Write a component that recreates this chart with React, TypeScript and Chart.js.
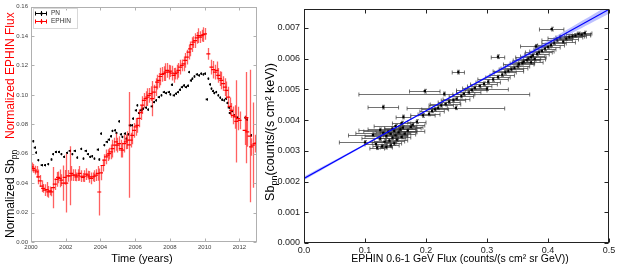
import React, { useEffect, useRef } from "react";
import { Chart, registerables } from "chart.js";
Chart.register(...registerables);

// ---------------- Left panel data ----------------
const LEFT_X_TITLE = "Time (years)";
const LEFT_Y_TITLE_BLACK = "Normalized Sb";
const LEFT_Y_TITLE_SUB = "pn";
const LEFT_Y_TITLE_RED = "Normalized EPHIN Flux";
const LEGEND_LABELS = ["PN", "EPHIN"];

const pnYears = [
  2000.13, 2000.21, 2000.29, 2000.42, 2000.61, 2000.8, 2000.99, 2001.18, 2001.27, 2001.43,
  2001.61, 2001.75, 2001.9, 2002.07, 2002.22, 2002.38, 2002.51, 2002.66, 2002.89, 2003.02,
  2003.14, 2003.27, 2003.4, 2003.52, 2003.65, 2003.84, 2003.93, 2004.03, 2004.22, 2004.35,
  2004.47, 2004.6, 2004.69, 2004.83, 2004.92, 2005.07, 2005.17, 2005.26, 2005.4, 2005.49,
  2005.6, 2005.68, 2005.8, 2005.87, 2006.03, 2006.12, 2006.21, 2006.31, 2006.37, 2006.44,
  2006.6, 2006.74, 2006.94, 2007.07, 2007.2, 2007.35, 2007.51, 2007.64, 2007.77, 2007.92,
  2008.02, 2008.11, 2008.21, 2008.34, 2008.46, 2008.57, 2008.68, 2008.8, 2008.91, 2009.03,
  2009.1, 2009.2, 2009.29, 2009.41, 2009.54, 2009.67, 2009.79, 2009.92, 2010.02, 2010.11,
  2010.21, 2010.3, 2010.39, 2010.47, 2010.55, 2010.66, 2010.78, 2010.89, 2011.0, 2011.12,
  2011.21, 2011.31, 2011.38, 2011.44, 2011.57, 2011.69, 2011.88, 2012.33, 2012.41, 2012.67,
];
const pnValues = [
  0.0685, 0.0642, 0.0608, 0.0556, 0.0522, 0.0522, 0.0529, 0.0561, 0.0597, 0.0612,
  0.0612, 0.0597, 0.0579, 0.0606, 0.0619, 0.0597, 0.0619, 0.0574, 0.0633, 0.0567,
  0.0619, 0.0597, 0.0579, 0.0583, 0.0567, 0.0628, 0.0561, 0.0737, 0.0658, 0.068,
  0.0696, 0.0719, 0.0755, 0.0759, 0.0741, 0.082, 0.0732, 0.0714, 0.0737, 0.0703,
  0.0732, 0.0793, 0.0793, 0.0839, 0.0895, 0.0929, 0.0877, 0.0895, 0.09, 0.0906,
  0.0913, 0.09, 0.0922, 0.0951, 0.0963, 0.0985, 0.0997, 0.1019, 0.1012, 0.1019,
  0.1003, 0.1069, 0.0997, 0.1008, 0.1019, 0.1035, 0.1053, 0.1064, 0.1053, 0.1062,
  0.1155, 0.1098, 0.111, 0.1125, 0.1139, 0.1132, 0.1144, 0.1139, 0.1144, 0.0969,
  0.111, 0.1071, 0.1042, 0.1026, 0.1012, 0.1019, 0.0997, 0.0981, 0.0967, 0.0963,
  0.0974, 0.0945, 0.0913, 0.0877, 0.089, 0.0861, 0.0845, 0.0845, 0.0832, 0.0725,
];
const PN_ERR = 0.0008;

const ephYears = [
  2000.04, 2000.13, 2000.23, 2000.32, 2000.42, 2000.51, 2000.61, 2000.7, 2000.8, 2000.9,
  2000.99, 2001.08, 2001.18, 2001.27, 2001.37, 2001.47, 2001.56, 2001.65, 2001.75, 2001.84,
  2001.94, 2002.03, 2002.13, 2002.22, 2002.32, 2002.41, 2002.51, 2002.61, 2002.7, 2002.79,
  2002.89, 2002.98, 2003.08, 2003.18, 2003.27, 2003.36, 2003.46, 2003.55, 2003.65, 2003.74,
  2003.84, 2003.93, 2004.03, 2004.12, 2004.22, 2004.32, 2004.41, 2004.5, 2004.6, 2004.69,
  2004.79, 2004.89, 2004.98, 2005.07, 2005.17, 2005.26, 2005.36, 2005.46, 2005.55, 2005.64,
  2005.74, 2005.83, 2005.93, 2006.03, 2006.12, 2006.21, 2006.31, 2006.4, 2006.5, 2006.6,
  2006.69, 2006.78, 2006.88, 2006.97, 2007.07, 2007.17, 2007.26, 2007.35, 2007.45, 2007.54,
  2007.64, 2007.74, 2007.83, 2007.92, 2008.02, 2008.11, 2008.21, 2008.31, 2008.4, 2008.49,
  2008.59, 2008.68, 2008.78, 2008.88, 2008.97, 2009.07, 2009.16, 2009.25, 2009.35, 2009.45,
  2009.54, 2009.64, 2009.73, 2009.82, 2009.92, 2010.02, 2010.21, 2010.39, 2010.49, 2010.59,
  2010.68, 2010.78, 2010.87, 2010.96, 2011.06, 2011.16, 2011.25, 2011.35, 2011.44, 2011.53,
  2011.63, 2011.73, 2011.82, 2011.92, 2012.01, 2012.3, 2012.4, 2012.45, 2012.58, 2012.67,
  2012.77, 2012.87, 2012.96,
];
const ephValues = [
  0.0511, 0.05, 0.0488, 0.0477, 0.0443, 0.0416, 0.038, 0.0364, 0.0353, 0.0357,
  0.0341, 0.0348, 0.0341, 0.037, 0.0393, 0.0425, 0.0439, 0.0432, 0.042, 0.04,
  0.0439, 0.04, 0.045, 0.045, 0.0466, 0.0454, 0.0454, 0.0443, 0.0454, 0.0466,
  0.0447, 0.0439, 0.0447, 0.0461, 0.0454, 0.0443, 0.0432, 0.0443, 0.0447, 0.0454,
  0.0466, 0.034, 0.047, 0.052, 0.0556, 0.0579, 0.059, 0.0601, 0.0612, 0.0635,
  0.0658, 0.068, 0.0658, 0.0669, 0.0635, 0.0624, 0.0669, 0.068, 0.0692, 0.066,
  0.0692, 0.0725, 0.0759, 0.0782, 0.0793, 0.084, 0.088, 0.093, 0.0963, 0.0974,
  0.0985, 0.0997, 0.1008, 0.0974, 0.1019, 0.1053, 0.1087, 0.1098, 0.1125, 0.1139,
  0.1144, 0.1155, 0.1166, 0.1155, 0.1162, 0.1148, 0.1132, 0.1144, 0.1155, 0.1166,
  0.1189, 0.12, 0.1211, 0.1234, 0.1256, 0.129, 0.1313, 0.1342, 0.1358, 0.1369,
  0.1388, 0.1403, 0.1392, 0.1403, 0.141, 0.1415, 0.1279, 0.1189, 0.1171, 0.1155,
  0.1166, 0.1132, 0.111, 0.1098, 0.1076, 0.1053, 0.1031, 0.0985, 0.0922, 0.0895,
  0.0861, 0.085, 0.082, 0.0839, 0.0827, 0.0759, 0.0845, 0.0748, 0.072, 0.0646,
  0.0658, 0.0669, 0.0673,
];
const ephErrors = [
  0.003, 0.003, 0.003, 0.004, 0.005, 0.004, 0.004, 0.003, 0.004, 0.005,
  0.004, 0.003, 0.003, 0.014, 0.004, 0.005, 0.004, 0.006, 0.004, 0.012,
  0.005, 0.02, 0.004, 0.02, 0.005, 0.004, 0.004, 0.003, 0.004, 0.005,
  0.004, 0.003, 0.004, 0.004, 0.003, 0.004, 0.004, 0.003, 0.004, 0.004,
  0.005, 0.016, 0.005, 0.004, 0.004, 0.005, 0.004, 0.004, 0.005, 0.006,
  0.005, 0.006, 0.005, 0.005, 0.006, 0.005, 0.006, 0.005, 0.006, 0.036,
  0.005, 0.006, 0.005, 0.006, 0.005, 0.006, 0.005, 0.006, 0.005, 0.005,
  0.006, 0.005, 0.005, 0.012, 0.005, 0.006, 0.005, 0.005, 0.006, 0.005,
  0.005, 0.006, 0.005, 0.005, 0.004, 0.005, 0.005, 0.004, 0.005, 0.005,
  0.005, 0.004, 0.005, 0.005, 0.005, 0.005, 0.005, 0.005, 0.004, 0.005,
  0.004, 0.005, 0.004, 0.004, 0.005, 0.004, 0.004, 0.005, 0.006, 0.005,
  0.006, 0.005, 0.005, 0.006, 0.005, 0.006, 0.006, 0.007, 0.006, 0.005,
  0.006, 0.008, 0.028, 0.008, 0.006, 0.01, 0.031, 0.01, 0.045, 0.006,
  0.029, 0.006, 0.005,
];

// ---------------- Right panel data ----------------
const RIGHT_X_TITLE = "EPHIN 0.6-1 GeV Flux (counts/(s cm\u00B2 sr GeV))";
const RIGHT_Y_TITLE_MAIN = "Sb";
const RIGHT_Y_TITLE_SUB = "pn";
const RIGHT_Y_TITLE_REST = "(counts/(s cm\u00B2 keV))";

const corrX = [
  0.12, 0.128, 0.135, 0.142, 0.118, 0.148, 0.1, 0.132, 0.14, 0.152,
  0.125, 0.145, 0.16, 0.135, 0.15, 0.113, 0.142, 0.165, 0.13, 0.155,
  0.138, 0.148, 0.17, 0.125, 0.158, 0.145, 0.162, 0.175, 0.15, 0.178,
  0.185, 0.163, 0.16, 0.13, 0.198, 0.23, 0.249, 0.195, 0.205, 0.21,
  0.215, 0.22, 0.225, 0.232, 0.238, 0.245, 0.25, 0.258, 0.262, 0.27,
  0.275, 0.28, 0.288, 0.295, 0.3, 0.302, 0.31, 0.318, 0.253, 0.318,
  0.325, 0.33, 0.335, 0.34, 0.345, 0.35, 0.352, 0.358, 0.36, 0.365,
  0.368, 0.372, 0.375, 0.378, 0.382, 0.385, 0.372, 0.39, 0.38, 0.395,
  0.4, 0.405, 0.41, 0.415, 0.425, 0.43, 0.435, 0.44, 0.445, 0.45,
  0.455, 0.46, 0.406, 0.42,
];
const corrY = [
  0.0031, 0.00314, 0.00312, 0.00318, 0.00322, 0.00324, 0.00327, 0.0033, 0.00333, 0.00336,
  0.0034, 0.00343, 0.00345, 0.00348, 0.0035, 0.00352, 0.00355, 0.00356, 0.00358, 0.0036,
  0.00362, 0.00365, 0.00366, 0.00368, 0.0037, 0.00372, 0.00375, 0.00378, 0.0038, 0.00385,
  0.00395, 0.0041, 0.0039, 0.00442, 0.00494, 0.00485, 0.0044, 0.00415, 0.0042, 0.0043,
  0.00435, 0.0044, 0.00448, 0.00452, 0.0046, 0.00465, 0.0047, 0.00478, 0.00485, 0.0049,
  0.00498, 0.00505, 0.0051, 0.00518, 0.00502, 0.00525, 0.00532, 0.0054, 0.00556, 0.00606,
  0.00548, 0.00555, 0.0056, 0.00565, 0.0057, 0.00575, 0.00582, 0.00585, 0.0059, 0.00595,
  0.006, 0.00605, 0.0061, 0.00598, 0.00615, 0.0062, 0.00588, 0.00625, 0.0064, 0.00632,
  0.00638, 0.00645, 0.00652, 0.0066, 0.00655, 0.00665, 0.0067, 0.00672, 0.00675, 0.0068,
  0.00678, 0.00683, 0.00696, 0.00668,
];
const corrXErr = [
  0.012, 0.015, 0.01, 0.014, 0.018, 0.012, 0.042, 0.02, 0.025, 0.018,
  0.03, 0.022, 0.015, 0.035, 0.02, 0.04, 0.028, 0.018, 0.045, 0.03,
  0.02, 0.05, 0.015, 0.035, 0.025, 0.04, 0.03, 0.02, 0.035, 0.02,
  0.015, 0.012, 0.015, 0.025, 0.025, 0.14, 0.08, 0.02, 0.018, 0.02,
  0.022, 0.015, 0.02, 0.025, 0.018, 0.02, 0.022, 0.02, 0.018, 0.02,
  0.025, 0.02, 0.02, 0.022, 0.035, 0.02, 0.025, 0.02, 0.01, 0.011,
  0.02, 0.018, 0.025, 0.02, 0.022, 0.02, 0.025, 0.02, 0.018, 0.022,
  0.02, 0.025, 0.02, 0.018, 0.02, 0.022, 0.02, 0.02, 0.025, 0.018,
  0.02, 0.022, 0.02, 0.025, 0.02, 0.02, 0.022, 0.02, 0.018, 0.02,
  0.015, 0.012, 0.02, 0.02,
];
const CORR_Y_ERR = 0.00006;

const fitX = [0, 0.5];
const fitY = [0.0021, 0.0076];
const bandX = [0, 0.1, 0.2, 0.3, 0.4, 0.5];
const bandHi = [0.00216, 0.00323, 0.00432, 0.00544, 0.00658, 0.00774];
const bandLo = [0.00204, 0.00317, 0.00428, 0.00536, 0.00642, 0.00746];

// ---------------- Styling ----------------
const SANS = "'Liberation Sans', Arial, sans-serif";
const LEFT_W = 262;
const RIGHT_W = 361;
const H = 270;

const pts = (xs: number[], ys: number[]) => {
  const n = Math.min(xs.length, ys.length);
  const out: { x: number; y: number }[] = [];
  for (let i = 0; i < n; i++) out.push({ x: xs[i], y: ys[i] });
  return out;
};

const errorBarPlugin = {
  id: "errorBars",
  beforeDatasetDraw(chart: any, args: any) {
    const ds = chart.data.datasets[args.index];
    if (!ds.errStyle) return;
    const xs = chart.scales.x;
    const ys = chart.scales.y;
    const ctx = chart.ctx;
    const ca = chart.chartArea;
    ctx.save();
    ctx.beginPath();
    ctx.rect(ca.left, ca.top, ca.right - ca.left, ca.bottom - ca.top);
    ctx.clip();
    ctx.strokeStyle = ds.errStyle.color;
    ctx.lineWidth = ds.errStyle.width;
    ds.data.forEach((p: any, i: number) => {
      const px = xs.getPixelForValue(p.x);
      const py = ys.getPixelForValue(p.y);
      if (ds.yErr !== undefined) {
        const e = Array.isArray(ds.yErr) ? ds.yErr[i] : ds.yErr;
        const y1 = ys.getPixelForValue(p.y - e);
        const y2 = ys.getPixelForValue(p.y + e);
        const cx = Math.round(px) + 0.5;
        ctx.beginPath();
        ctx.moveTo(cx, y1);
        ctx.lineTo(cx, y2);
        const cap = ds.errStyle.yCap || 0;
        if (cap) {
          ctx.moveTo(cx - cap, y1);
          ctx.lineTo(cx + cap, y1);
          ctx.moveTo(cx - cap, y2);
          ctx.lineTo(cx + cap, y2);
        }
        ctx.stroke();
      }
      if (ds.xErr !== undefined) {
        const e = Array.isArray(ds.xErr) ? ds.xErr[i] : ds.xErr;
        const x1 = xs.getPixelForValue(p.x - e);
        const x2 = xs.getPixelForValue(p.x + e);
        const cy = Math.round(py) + 0.5;
        ctx.beginPath();
        ctx.moveTo(x1, cy);
        ctx.lineTo(x2, cy);
        const cap = ds.errStyle.xCap || 0;
        if (cap) {
          ctx.moveTo(x1, cy - cap);
          ctx.lineTo(x1, cy + cap);
          ctx.moveTo(x2, cy - cap);
          ctx.lineTo(x2, cy + cap);
        }
        ctx.stroke();
      }
    });
    ctx.restore();
  },
};

const makeFramePlugin = (color: string, len: number) => ({
  id: "frame",
  afterDraw(chart: any) {
    const { ctx, chartArea: ca, scales } = chart;
    const l = Math.round(ca.left) + 0.5;
    const r = Math.round(ca.right) - 0.5;
    const t = Math.round(ca.top) + 0.5;
    const b = Math.round(ca.bottom) - 0.5;
    ctx.save();
    ctx.strokeStyle = color;
    ctx.lineWidth = 1;
    ctx.beginPath();
    scales.x.ticks.forEach((tk: any) => {
      const x = Math.round(scales.x.getPixelForValue(tk.value)) + 0.5;
      ctx.moveTo(x, b);
      ctx.lineTo(x, b - len);
      ctx.moveTo(x, t);
      ctx.lineTo(x, t + len);
    });
    scales.y.ticks.forEach((tk: any) => {
      const y = Math.round(scales.y.getPixelForValue(tk.value)) + 0.5;
      ctx.moveTo(l, y);
      ctx.lineTo(l + len, y);
      ctx.moveTo(r, y);
      ctx.lineTo(r - len, y);
    });
    ctx.stroke();
    ctx.strokeRect(l, t, r - l, b - t);
    ctx.restore();
  },
});

const leftTextPlugin = {
  id: "leftTexts",
  afterDraw(chart: any) {
    const ctx = chart.ctx;
    ctx.save();
    ctx.fillStyle = "#000";
    ctx.font = `11px ${SANS}`;
    ctx.textAlign = "center";
    ctx.textBaseline = "middle";
    ctx.fillText(LEFT_X_TITLE, 142, 259);
    ctx.restore();

    // y title, black part
    ctx.save();
    ctx.translate(11, 238);
    ctx.rotate(-Math.PI / 2);
    ctx.textAlign = "left";
    ctx.textBaseline = "middle";
    ctx.fillStyle = "#000";
    ctx.font = `12px ${SANS}`;
    ctx.fillText(LEFT_Y_TITLE_BLACK, 0, 0);
    const w = ctx.measureText(LEFT_Y_TITLE_BLACK).width;
    ctx.font = `8.5px ${SANS}`;
    ctx.fillText(LEFT_Y_TITLE_SUB, w, 3.5);
    ctx.restore();

    // y title, red part
    ctx.save();
    ctx.translate(11, 139);
    ctx.rotate(-Math.PI / 2);
    ctx.textAlign = "left";
    ctx.textBaseline = "middle";
    ctx.fillStyle = "#ff0000";
    ctx.font = `12px ${SANS}`;
    ctx.fillText(LEFT_Y_TITLE_RED, 0, 0);
    ctx.restore();

    // legend
    ctx.save();
    ctx.strokeStyle = "#d8d8d8";
    ctx.lineWidth = 1;
    ctx.strokeRect(33.5, 8.5, 44, 20);
    const colors = ["#000000", "#ff0000"];
    const rows = [13.5, 21.5];
    LEGEND_LABELS.forEach((lab, i) => {
      const y = rows[i];
      ctx.strokeStyle = colors[i];
      ctx.fillStyle = colors[i];
      ctx.beginPath();
      ctx.moveTo(35, y);
      ctx.lineTo(47, y);
      ctx.moveTo(35.5, y - 2);
      ctx.lineTo(35.5, y + 2);
      ctx.moveTo(46.5, y - 2);
      ctx.lineTo(46.5, y + 2);
      ctx.moveTo(41.5, y - 2.5);
      ctx.lineTo(41.5, y + 2.5);
      ctx.stroke();
      ctx.fillRect(40.5, y - 1, 2, 2);
      ctx.fillStyle = "#333";
      ctx.font = `6.5px ${SANS}`;
      ctx.textAlign = "left";
      ctx.textBaseline = "middle";
      ctx.fillText(lab, 51, y);
    });
    ctx.restore();
  },
};

const rightTextPlugin = {
  id: "rightTexts",
  afterDraw(chart: any) {
    const ctx = chart.ctx;
    ctx.save();
    ctx.fillStyle = "#000";
    ctx.font = `10.5px ${SANS}`;
    ctx.textAlign = "center";
    ctx.textBaseline = "middle";
    ctx.fillText(RIGHT_X_TITLE, 198, 259);
    ctx.restore();

    ctx.save();
    ctx.font = `12.5px ${SANS}`;
    const w1 = ctx.measureText(RIGHT_Y_TITLE_MAIN).width;
    const w3 = ctx.measureText(RIGHT_Y_TITLE_REST).width;
    ctx.font = `9px ${SANS}`;
    const w2 = ctx.measureText(RIGHT_Y_TITLE_SUB).width;
    const total = w1 + w2 + w3;
    ctx.translate(9, 132 + total / 2);
    ctx.rotate(-Math.PI / 2);
    ctx.textAlign = "left";
    ctx.textBaseline = "middle";
    ctx.fillStyle = "#000";
    ctx.font = `12.5px ${SANS}`;
    ctx.fillText(RIGHT_Y_TITLE_MAIN, 0, 0);
    ctx.font = `9px ${SANS}`;
    ctx.fillText(RIGHT_Y_TITLE_SUB, w1, 3.5);
    ctx.font = `12.5px ${SANS}`;
    ctx.fillText(RIGHT_Y_TITLE_REST, w1 + w2, 0);
    ctx.restore();
  },
};

export default function App() {
  const leftRef = useRef<HTMLCanvasElement | null>(null);
  const rightRef = useRef<HTMLCanvasElement | null>(null);

  useEffect(() => {
    if (!leftRef.current || !rightRef.current) return;

    const left = new Chart(leftRef.current, {
      type: "scatter",
      data: {
        datasets: [
          {
            label: LEGEND_LABELS[0],
            data: pts(pnYears, pnValues),
            pointStyle: "rect",
            pointRadius: 1.3,
            backgroundColor: "#000",
            borderColor: "#000",
            borderWidth: 0,
            yErr: PN_ERR,
            errStyle: { color: "#000", width: 1, yCap: 0 },
            order: 2,
          } as any,
          {
            label: LEGEND_LABELS[1],
            data: pts(ephYears, ephValues),
            pointStyle: "line",
            pointRadius: 2,
            backgroundColor: "#ff0000",
            borderColor: "#ff0000",
            borderWidth: 1.2,
            yErr: ephErrors,
            errStyle: { color: "rgba(255,0,0,0.62)", width: 1.3, yCap: 0 },
            order: 1,
          } as any,
        ],
      },
      options: {
        animation: false,
        responsive: false,
        events: [],
        layout: { padding: { left: 0, right: 3, top: 6, bottom: 0 } },
        plugins: { legend: { display: false }, tooltip: { enabled: false } },
        scales: {
          x: {
            type: "linear",
            min: 2000,
            max: 2013,
            afterFit: (s: any) => {
              s.height = 28;
            },
            grid: { display: false, drawTicks: false },
            border: { display: false },
            ticks: {
              stepSize: 2,
              includeBounds: false,
              autoSkip: false,
              maxRotation: 0,
              callback: (v: any) => String(v),
              font: { size: 6, family: SANS },
              color: "#444",
              padding: 2,
            },
          },
          y: {
            type: "linear",
            min: 0,
            max: 0.16,
            afterFit: (s: any) => {
              s.width = 31;
            },
            grid: { display: false, drawTicks: false },
            border: { display: false },
            ticks: {
              stepSize: 0.02,
              autoSkip: false,
              callback: (v: any) => Number(v).toFixed(2),
              font: { size: 6, family: SANS },
              color: "#444",
              padding: 3,
            },
          },
        },
      } as any,
      plugins: [errorBarPlugin, makeFramePlugin("#b0b0b0", 3), leftTextPlugin],
    });

    const right = new Chart(rightRef.current, {
      type: "scatter",
      data: {
        datasets: [
          {
            label: "data",
            data: pts(corrX, corrY),
            pointStyle: "rect",
            pointRadius: 1.6,
            backgroundColor: "#000",
            borderColor: "#000",
            borderWidth: 0,
            xErr: corrXErr,
            yErr: CORR_Y_ERR,
            errStyle: { color: "rgba(60,60,60,0.72)", width: 1, xCap: 2, yCap: 1.5 },
            order: 3,
          } as any,
          {
            type: "line",
            label: "bandHi",
            data: pts(bandX, bandHi),
            borderWidth: 0,
            borderColor: "rgba(0,0,0,0)",
            pointRadius: 0,
            fill: "+1",
            backgroundColor: "rgba(90,100,255,0.4)",
            tension: 0.4,
            order: 2,
          } as any,
          {
            type: "line",
            label: "bandLo",
            data: pts(bandX, bandLo),
            borderWidth: 0,
            borderColor: "rgba(0,0,0,0)",
            pointRadius: 0,
            fill: false,
            tension: 0.4,
            order: 2,
          } as any,
          {
            type: "line",
            label: "fit",
            data: pts(fitX, fitY),
            borderColor: "#0000ff",
            borderWidth: 1.2,
            pointRadius: 0,
            fill: false,
            order: 1,
          } as any,
        ],
      },
      options: {
        animation: false,
        responsive: false,
        events: [],
        layout: { padding: { left: 0, right: 14, top: 7, bottom: 0 } },
        plugins: { legend: { display: false }, tooltip: { enabled: false } },
        scales: {
          x: {
            type: "linear",
            min: 0,
            max: 0.5,
            afterFit: (s: any) => {
              s.height = 27;
            },
            grid: { display: false, drawTicks: false },
            border: { display: false },
            ticks: {
              stepSize: 0.1,
              autoSkip: false,
              maxRotation: 0,
              callback: (v: any) => Number(v).toFixed(1),
              font: { size: 9, family: SANS },
              color: "#222",
              padding: 2,
            },
          },
          y: {
            type: "linear",
            min: 0,
            max: 0.0076,
            afterFit: (s: any) => {
              s.width = 42;
            },
            grid: { display: false, drawTicks: false },
            border: { display: false },
            ticks: {
              stepSize: 0.001,
              includeBounds: false,
              autoSkip: false,
              callback: (v: any) => Number(v).toFixed(3),
              font: { size: 9, family: SANS },
              color: "#222",
              padding: 4,
            },
          },
        },
      } as any,
      plugins: [errorBarPlugin, makeFramePlugin("#222", 4), rightTextPlugin],
    });

    return () => {
      left.destroy();
      right.destroy();
    };
  }, []);

  return (
    <div style={{ position: "absolute", left: 0, top: 0, width: 623, height: H, background: "#fff" }}>
      <canvas ref={leftRef} width={LEFT_W} height={H} style={{ position: "absolute", left: 0, top: 0 }} />
      <canvas ref={rightRef} width={RIGHT_W} height={H} style={{ position: "absolute", left: LEFT_W, top: 0 }} />
    </div>
  );
}
